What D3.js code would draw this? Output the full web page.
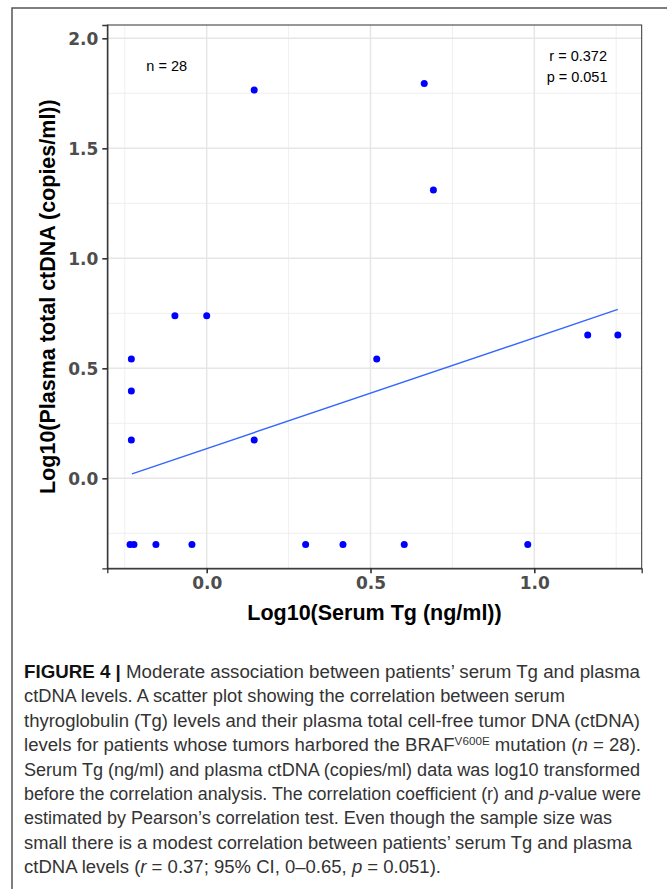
<!DOCTYPE html>
<html>
<head>
<meta charset="utf-8">
<script src="https://cdn.jsdelivr.net/npm/d3@7"></script>
<style>
  html, body { margin: 0; padding: 0; background: #fff; }
  svg { display: block; }
</style>
</head>
<body>
<svg id="chart" width="667" height="889"></svg>
<script>
// ---- data ----
const serumTg = [-0.230, -0.230, -0.230, -0.234, -0.222, -0.155, -0.097, 0.000, -0.045, 0.145,
                 0.145, 0.302, 0.416, 0.519, 0.603, 0.664, 0.692, 0.980, 1.163, 1.255];
const plasmaCtDNA = [0.542, 0.397, 0.174, -0.301, -0.301, -0.301, 0.739, 0.739, -0.301, 1.765,
                     0.174, -0.301, -0.301, 0.542, -0.301, 1.795, 1.310, -0.301, 0.651, 0.651];
const fitIntercept = 0.135;
const fitSlope = 0.504;
const fitRange = [-0.228, 1.255];
const xTicks = [0.0, 0.5, 1.0];
const xMinor = [-0.25, 0.25, 0.75, 1.25];
const yTicks = [0.0, 0.5, 1.0, 1.5, 2.0];
const yMinor = [-0.25, 0.25, 0.75, 1.25, 1.75];
const xDomain = [-0.3034, 1.3278];
const yDomain = [-0.409, 2.0605];
const annotations = { n: "n = 28", r: "r = 0.372", p: "p = 0.051" };
const xTitle = "Log10(Serum Tg (ng/ml))";
const yTitle = "Log10(Plasma total ctDNA (copies/ml))";
const captionLines = [
  [{t: "FIGURE 4 |", b: true}, {t: " Moderate association between patients’ serum Tg and plasma"}],
  [{t: "ctDNA levels. A scatter plot showing the correlation between serum"}],
  [{t: "thyroglobulin (Tg) levels and their plasma total cell-free tumor DNA (ctDNA)"}],
  [{t: "levels for patients whose tumors harbored the BRAF"}, {t: "V600E", sup: true}, {t: " mutation ("}, {t: "n", i: true}, {t: " = 28)."}],
  [{t: "Serum Tg (ng/ml) and plasma ctDNA (copies/ml) data was log10 transformed"}],
  [{t: "before the correlation analysis. The correlation coefficient (r) and "}, {t: "p", i: true}, {t: "-value were"}],
  [{t: "estimated by Pearson’s correlation test. Even though the sample size was"}],
  [{t: "small there is a modest correlation between patients’ serum Tg and plasma"}],
  [{t: "ctDNA levels ("}, {t: "r", i: true}, {t: " = 0.37; 95% CI, 0–0.65, "}, {t: "p", i: true}, {t: " = 0.051)."}]
];
const captionEnds = [640, 565, 640, 641, 640, 641, 612, 632, 441];

// ---- layout ----
const svg = d3.select("#chart");
const panel = { left: 107.3, right: 641.7, top: 25, bottom: 568.3 };
const x = d3.scaleLinear().domain(xDomain).range([panel.left, panel.right]);
const y = d3.scaleLinear().domain(yDomain).range([panel.bottom, panel.top]);

// outer frame
svg.append("path")
  .attr("d", "M12,900 L12,8 L680,8")
  .attr("fill", "none").attr("stroke", "#555").attr("stroke-width", 1.5);

// panel background
svg.append("rect")
  .attr("x", panel.left).attr("y", panel.top)
  .attr("width", panel.right - panel.left).attr("height", panel.bottom - panel.top)
  .attr("fill", "#fff");

const grid = svg.append("g");
grid.selectAll(".xminor").data(xMinor).join("line")
  .attr("x1", d => x(d)).attr("x2", d => x(d))
  .attr("y1", panel.top).attr("y2", panel.bottom)
  .attr("stroke", "#EBEBEB").attr("stroke-width", 0.8);
grid.selectAll(".yminor").data(yMinor).join("line")
  .attr("y1", d => y(d)).attr("y2", d => y(d))
  .attr("x1", panel.left).attr("x2", panel.right)
  .attr("stroke", "#EBEBEB").attr("stroke-width", 0.8);
grid.selectAll(".xmajor").data(xTicks).join("line")
  .attr("x1", d => x(d)).attr("x2", d => x(d))
  .attr("y1", panel.top).attr("y2", panel.bottom)
  .attr("stroke", "#E6E6E6").attr("stroke-width", 1.5);
grid.selectAll(".ymajor").data(yTicks).join("line")
  .attr("y1", d => y(d)).attr("y2", d => y(d))
  .attr("x1", panel.left).attr("x2", panel.right)
  .attr("stroke", "#E6E6E6").attr("stroke-width", 1.5);

// fit line
const fitLine = d3.line().x(d => x(d)).y(d => y(fitIntercept + fitSlope * d));
svg.append("path")
  .attr("d", fitLine(fitRange))
  .attr("fill", "none").attr("stroke", "#3366FF").attr("stroke-width", 1.4);

// points
const pts = serumTg.map((v, i) => ({ x: v, y: plasmaCtDNA[i] }));
svg.append("g").selectAll("circle").data(pts).join("circle")
  .attr("cx", d => x(d.x)).attr("cy", d => y(d.y)).attr("r", 3.5)
  .attr("fill", "#0000FF");

// panel border
svg.append("rect")
  .attr("x", panel.left).attr("y", panel.top)
  .attr("width", panel.right - panel.left).attr("height", panel.bottom - panel.top)
  .attr("fill", "none").attr("stroke", "#333").attr("stroke-width", 1);

// axes
const xAxis = d3.axisBottom(x).tickValues(xTicks).tickFormat(d3.format(".1f")).tickSize(5).tickPadding(4);
const yAxis = d3.axisLeft(y).tickValues(yTicks).tickFormat(d3.format(".1f")).tickSize(5).tickPadding(4);
const gx = svg.append("g").attr("transform", `translate(0,${panel.bottom})`).call(xAxis);
const gy = svg.append("g").attr("transform", `translate(${panel.left},0)`).call(yAxis);
[gx, gy].forEach(g => {
  g.attr("font-size", 17).attr("font-family", "DejaVu Sans, Liberation Sans, Arial, sans-serif");
  g.select(".domain").attr("stroke", "#333").attr("stroke-width", 1.3);
  g.selectAll(".tick line").attr("stroke", "#333").attr("stroke-width", 1.6);
  g.selectAll(".tick text")
    .attr("font-weight", "bold").attr("fill", "#4D4D4D");
});
gy.selectAll(".tick text").attr("dy", "0.36em");

// axis titles
svg.append("text")
  .attr("x", (panel.left + panel.right) / 2).attr("y", 620)
  .attr("text-anchor", "middle")
  .attr("font-family", "Liberation Sans, Arial, sans-serif")
  .attr("font-weight", "bold").attr("font-size", 21.5).attr("fill", "#000")
  .text(xTitle);
svg.append("text")
  .attr("transform", `translate(55,${(panel.top + panel.bottom) / 2}) rotate(-90)`)
  .attr("text-anchor", "middle")
  .attr("font-family", "Liberation Sans, Arial, sans-serif")
  .attr("font-weight", "bold").attr("font-size", 21.5).attr("fill", "#000")
  .text(yTitle);

// annotations
const annFont = "Liberation Sans, Arial, sans-serif";
svg.append("text").attr("x", 166.7).attr("y", 70.5).attr("text-anchor", "middle")
  .attr("font-family", annFont).attr("font-size", 14.5).attr("fill", "#000").text(annotations.n);
svg.append("text").attr("x", 607).attr("y", 60.5).attr("text-anchor", "end")
  .attr("font-family", annFont).attr("font-size", 14.5).attr("fill", "#000").text(annotations.r);
svg.append("text").attr("x", 607.5).attr("y", 81.5).attr("text-anchor", "end")
  .attr("font-family", annFont).attr("font-size", 14.5).attr("fill", "#000").text(annotations.p);

// caption
const cap = svg.append("g")
  .attr("font-family", "Liberation Sans Narrow, Liberation Sans, Arial, sans-serif")
  .attr("font-size", 17.5).attr("fill", "#333");
const capX = 24, capY0 = 678, capStep = 24.4;
captionLines.forEach((line, i) => {
  const t = cap.append("text").attr("x", capX).attr("y", capY0 + i * capStep)
    .attr("textLength", captionEnds[i] - capX).attr("lengthAdjust", "spacingAndGlyphs");
  let prevSup = false;
  line.forEach(seg => {
    const s = t.append("tspan").text(seg.t);
    if (seg.b) s.attr("font-weight", "bold").attr("fill", "#111");
    if (seg.i) s.attr("font-style", "italic");
    if (seg.sup) s.attr("font-size", 11).attr("dy", -6);
    else if (prevSup) s.attr("dy", 6);
    prevSup = !!seg.sup;
  });
});
</script>
</body>
</html>
